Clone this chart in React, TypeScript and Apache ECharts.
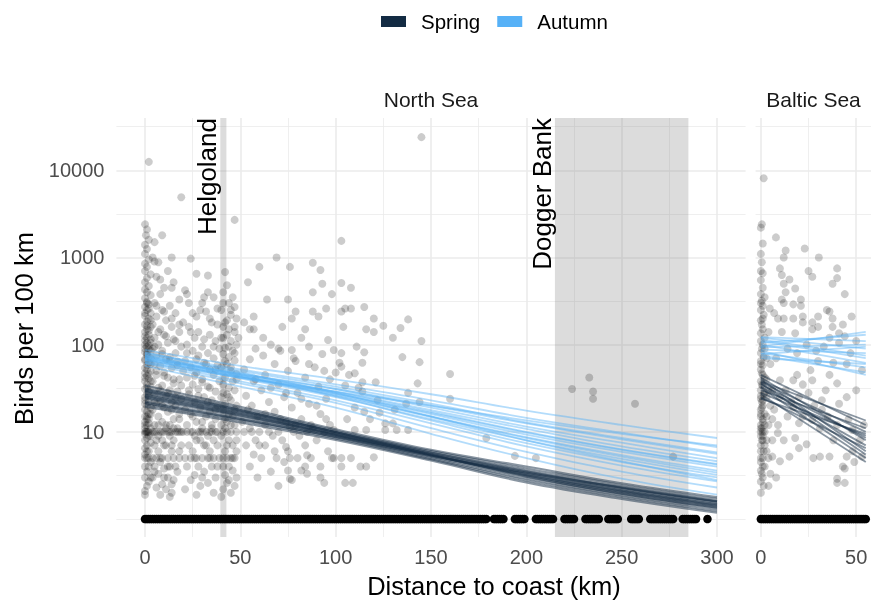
import React, { useEffect, useRef } from "react";
import * as echarts from "echarts";

const FONT = "Liberation Sans, Arial, Helvetica, sans-serif";
const SPRING = "#132B43";
const AUTUMN = "#56B1F7";

const seasons = ["Spring", "Autumn"];
const facets = ["North Sea", "Baltic Sea"];

// Observed birds per 100 km (non-zero), North Sea: [distance km, birds]
const northPoints: number[][] = [
  [2,12500],[19,4900],[47,2700],
  [0,2400],[1,2100],[0.5,1800],[2,1600],[0,1400],[1,1250],[0,1100],[2,950],[0,850],[1,780],[0,700],[3,640],[1,580],[0,520],[2,470],[0,430],[1,400],[3,370],[0,340],[1,310],[2,290],[0,270],[1,250],[3,230],[0,215],[2,200],[1,185],[0,170],[3,160],[1,150],[0,140],[2,130],[1,120],[0,112],[3,105],[0,100],[1,95],[2,88],[0,82],[1,76],[3,70],[0,66],[2,62],[1,58],[0,54],[3,50],[0,47],[1,44],[2,41],[0,38],[1,35],[3,33],[0,31],[2,29],[1,27],[0,25],[0,23],[2,22],[1,20],[3,19],[0,18],[1,17],[2,16],[0,15],[1,14],[0,13],[2,12.5],[1,12],[0,11],[3,11],[0,10],[1,10],[2,10],[0.5,10],[1.5,10],[0,9.5],[2,9],[1,8.5],[0,8],[3,7.5],[1,7],[0,6.5],[2,6],[0,5.5],[1,5],[0,5],[2,5],[3,4.5],[0,4],[1,3.5],[0,3],[2,2.7],[1,2.4],[0,2.1],[0,1.9],
  [1,300],[2,260],[0,230],[3,190],[1,165],[2,145],[0,125],[3,115],[1,105],[2,98],[0,90],[3,85],[1,80],[2,72],[0,68],[3,60],[1,52],[2,46],[0,42],[3,38],[1,32],[2,26],[0,21],[3,16],[1,15],[2,14],[0,12],[3,9],[1,6],[2,4],[3,3],
  [5,1500],[9,1800],[4,1000],[14,1000],[5,900],[7,880],[12,700],[6,600],[8,560],[15,520],[10,450],[14,450],[8,380],[18,330],[5,300],[13,280],[9,250],[16,230],[6,210],[11,190],[20,180],[4,170],[14,160],[8,150],[18,140],[10,130],[5,120],[15,115],[12,105],[7,100],[19,95],[4,90],[9,85],[16,80],[6,75],[13,72],[11,68],[17,64],[5,60],[8,57],[14,54],[20,50],[10,48],[6,45],[12,42],[18,40],[4,38],[15,36],[9,34],[7,32],[13,30],[17,29],[5,27],[11,26],[19,24],[8,23],[14,22],[6,21],[16,20],[10,19],[4,18],[12,17],[18,16],[7,15],[15,14],[9,13],[13,12],[5,12],[11,11],[17,11],[4,10],[6,10],[8,10],[10,10],[12,10],[14,10],[16,10],[18,10],[20,10],[7,9],[13,9],[9,8],[15,8],[5,7],[11,7],[19,7],[7,6],[14,6],[4,5],[6,5],[9,5],[12,5],[15,5],[18,5],[8,4.5],[13,4],[5,4],[10,3.8],[17,3.5],[7,3.3],[12,3],[4,3],[15,2.8],[9,2.5],[6,2.3],[11,2.2],[14,2],[8,1.9],[13,1.8],
  [6,280],[10,240],[14,200],[18,170],[7,140],[11,125],[16,110],[5,95],[9,78],[13,66],[17,58],[6,50],[10,44],[15,40],[19,34],[8,30],[12,28],[16,25],[5,22],[9,20],[14,18],[18,14],[7,12],[11,12],[15,11],[19,10],[5,10],[9,10],[13,10],[17,10],[6,8],[10,7],[14,7],[18,6],[8,5],[12,4],[16,4],[5,3.5],[10,3],[14,2.5],
  [24,970],[27,650],[33,620],[21,420],[22,380],[33,400],[31,350],[36,350],[25,230],[27,210],[32,240],[38,260],[30,300],[35,180],[23,160],[28,140],[34,130],[26,120],[37,110],[22,100],[30,95],[39,90],[25,85],[33,80],[28,75],[36,70],[21,65],[31,62],[38,58],[24,55],[34,52],[27,48],[36,45],[22,42],[30,40],[39,38],[25,35],[33,33],[28,31],[37,29],[23,27],[31,25],[35,23],[26,22],[38,20],[29,19],[21,18],[34,17],[24,16],[32,15],[37,14],[27,13],[22,12],[35,12],[30,11],[25,10],[28,10],[30,10],[32,10],[35,10],[38,10],[22,10],[26,9],[33,9],[29,8],[36,8],[23,7],[31,7],[38,7],[25,6],[34,6],[21,5],[24,5],[27,5],[30,5],[33,5],[36,5],[39,5],[28,4],[35,4],[22,4],[31,3.5],[26,3.2],[37,3],[24,2.8],[33,2.6],[29,2.4],[21,2.2],[36,2],[27,1.9],
  [23,300],[29,250],[34,200],[38,170],[24,140],[31,115],[36,95],[22,80],[27,68],[32,60],[37,52],[26,44],[30,37],[34,32],[23,30],[28,26],[33,22],[37,18],[25,15],[30,13],[35,11],[24,10],[29,10],[34,10],[37,10],[27,8],[32,7],[26,5],[34,5],[38,4],[30,3],
  [42,680],[43,480],[41,400],[46,350],[44,300],[47,270],[40,250],[45,220],[48,200],[42,180],[41,160],[44,150],[47,140],[43,130],[40,120],[45,110],[48,100],[42,92],[46,85],[41,78],[44,72],[47,66],[43,60],[40,55],[45,50],[48,46],[42,42],[46,38],[41,35],[44,32],[47,30],[43,27],[40,25],[45,23],[42,21],[48,20],[41,18],[44,16],[46,15],[43,13],[40,12],[47,12],[42,11],[45,10],[41,10],[43,10],[48,10],[40,9],[44,8],[46,7],[42,6],[48,6],[41,5],[43,5],[45,5],[47,5],[44,4],[46,3.6],[42,3.2],[48,3],[43,2.6],[41,2.2],[45,2],[40,1.8],[47,2.4],
  [41,300],[45,250],[43,190],[47,160],[41,120],[44,95],[47,80],[42,65],[45,55],[48,40],[41,28],[44,25],[47,18],[42,14],[45,12],[48,8],[43,7],[46,5],[41,4],[44,2.8],
  [54,520],[60,780],[69,1000],[76,780],[88,870],[92,720],[93,500],[88,400],[98,380],[64,330],[75,330],[79,240],[88,240],[57,210],[52,180],[77,200],[72,160],[57,150],[84,150],[82,120],[49,120],[91,210],[95,260],[96,113],[66,100],[58,90],[86,95],[71,85],[62,75],[93,78],[55,68],[79,65],[68,60],[89,55],[52,52],[75,50],[63,45],[84,42],[97,40],[57,38],[70,35],[91,33],[61,30],[80,28],[53,26],[73,25],[95,24],[65,22],[86,21],[56,20],[77,19],[68,17],[92,16],[59,15],[82,14],[51,13],[74,13],[97,12],[63,12],[55,11],[88,11],[52,10],[56,10],[60,10],[65,10],[70,10],[78,10],[85,10],[94,10],[67,9],[81,9],[58,8],[72,8],[90,8],[53,7],[63,7],[84,7],[96,6],[75,6],[57,5.5],[61,5],[69,5],[80,5],[87,5],[99,5],[73,4.5],[55,4],[92,4],[66,3.5],[85,3.3],[59,3],[77,2.8],[94,2.6],[70,2.4],[74,6.7],[76,11.4],[85,5.4],[75,3.6],[82,3.6],[76,2.9],
  [55,150],[62,120],[70,90],[78,70],[86,60],[94,50],[58,40],[66,32],[74,28],[82,24],[90,20],[54,18],[63,16],[71,14],[79,12],[87,12],[95,14],[60,7],[68,6],[76,5],[84,4],[92,3],
  [103,1550],[103,510],[108,450],[103,240],[105,260],[108,260],[115,270],[120,200],[125,165],[134,155],[138,195],[116,150],[120,140],[104,160],[130,120],[145,110],[111,95],[99,87],[103,80],[77,87],[115,82],[135,72],[144,63],[102,62],[103,56],[114,62],[107,45],[110,47],[121,37],[114,37],[143,36],[100,48],[105,34],[112,32],[114,29],[122,23],[131,18],[110,19],[115,17],[118,14],[126,12.5],[130,12.5],[123,16.6],[137,21],[144,22],[138,28],[160,46],[160,24],[99,10.5],[106,14],[110,10.5],[116,10.5],[126,10.5],[132,10.5],[138,10.5],[98,5],[103,5],[108,5],[103,4],[113,4],[116,4],[105,2.6],[109,2.6],[120,5.1],[145,24000],
  [179,8.5],[194,5.3],[205,5],[224,31],[233,42],[235,29],[235,24],[257,21],[277,5.2]
];

// Distances of transects with zero birds, North Sea
const northZeroX: number[] = [
  0,1,2,3,4,5,6,7,8,9,10,11,12,13,14,15,16,17,18,19,20,21,22,23,24,25,26,27,28,29,30,31,32,33,34,35,36,37,38,39,40,41,42,43,44,45,46,47,48,49,
  50,51,52,53,54,55,56,57,58,59,60,61,62,63,64,65,66,67,68,69,70,71,72,73,74,75,76,77,78,79,80,81,82,83,84,85,86,87,88,89,90,91,92,93,94,95,96,97,98,99,
  100,101,102,103,104,105,106,107,108,109,110,111,112,113,114,115,116,117,118,119,120,121,122,123,124,125,126,127,128,129,130,131,132,133,134,135,136,137,138,139,
  140,141,142,143,144,145,146,147,148,149,150,151,152,153,154,155,156,157,158,159,160,161,162,163,164,165,166,167,168,169,170,171,172,173,174,175,176,177,178,179,
  183,184,185,186,187,188,194,195,196,197,198,199,205,206,207,208,209,210,211,212,213,214,220,221,222,223,224,225,231,232,233,234,235,236,237,238,243,244,245,246,247,248,
  255,256,257,258,259,265,266,267,268,269,270,271,272,273,274,275,276,277,282,283,284,285,286,287,288,289,295
];

// Observed birds per 100 km (non-zero), Baltic Sea
const balticPoints: number[][] = [
  [1.5,8100],[0.5,2400],[0,2200],[1,1450],[0,1100],[0.5,880],[1,660],[0,550],[1,450],[0,380],[0.5,320],[1,280],[0,250],[1.5,220],[0,190],[0.5,170],[1,150],[0,135],[2,120],[0,110],[1,100],[0.5,90],[0,80],[1.5,72],[0,65],[1,58],[0,52],[0.5,47],[2,42],[0,38],[1,34],[0,30],[1.5,27],[0,24],[0.5,22],[1,20],[0,18],[2,16],[0,15],[1,13],[0,12],[0.5,11],[0,10],[1,10],[2,10],[0,9],[1,8],[0,7],[1.5,6],[0,5],[1,5],[0,4.5],[2,4],[0,3.6],[1,3],[0,2.7],[1.5,2.4],[0,2],
  [0,60],[1,45],[0.5,35],[2,28],[0,26],[1,23],[0.5,19],[0,16],[1,14],[2,12],[0,11],[1,9],[0.5,8],[2,7],[0,6],[1,4],[0.5,3.3],[3,40],[3,15],[3,8],[4,30],[5,20],[2,90],[1,200],[0,300],[2,350],[0,700],[3,70],[4,5],
  [7.9,1700],[13,1200],[23,1270],[30.4,1000],[12,1000],[10,750],[11,630],[15,560],[25,700],[27,600],[40,750],[40,580],[37.6,500],[44,380],[12,500],[13,400],[18,440],[11,330],[12,300],[21,330],[21,280],[17,290],[4.7,260],[7,230],[9,200],[12,200],[17,200],[22,210],[22,180],[27,180],[30,210],[27,150],[30,160],[34.6,250],[36,240],[37.6,200],[37.6,160],[43,170],[47.6,210],[41,135],[44,125],[41,105],[36,120],[11,140],[18,135],[4,140],
  [8.9,9.7],[17,39],[27,39],[22,15],[32,18],[34,30],[40,36],[43,4],[44,2.6],[40,2.6],[40,2.9],[44,3.8],[36,5.2],[31,5.2],[27.5,5],[49,4.5],[45,5.2],[48,6],[53,5.2],[15,5.2],[20,6.5],[24,7.2],[6,5.2],[10,4.6],[18,8.5],[20,12.6],[27,13.7],[31,11],[38,8],[48,10.5],[52,8],[46,14],[32,23],[41,21],[20,25],[17,19],[26,51],[38,62],[47,80],[53,51],[6,14],[10,25],[13,30],[10,39],[5,60],[8,70],[14,90],[19,80],[24,100],[29,85],[33,95],[50,110],[45,60],[36,45],[3,25],[4,12],[6,8],[3,6],[5,3.3],[8,3],[4,2.4],
  [6,30],[7,18],[9,12],[12,8],[14,15],[16,22],[19,45],[22,35],[25,28],[28,20],[30,65],[35,15],[40,12],[45,25],[50,30],[54,12]
];

const balticZeroX: number[] = [0,1,2,3,4,5,6,7,8,9,10,11,12,13,14,15,16,17,18,19,20,21,22,23,24,25,26,27,28,29,30,31,32,33,34,35,36,37,38,39,40,41,42,43,44,45,46,47,48,49,50,51,52,53,54,55];

// Fitted posterior draws
const northFitX = [0, 50, 100, 150, 200, 250, 300];
const northSpringDraws: number[][] = [
  [34,19.4,10.7,6.2,4.0,2.57,1.78],[19.5,12.8,8.1,4.7,2.63,1.70,1.18],[25.7,15.8,9.3,5.4,3.24,2.09,1.45],[29.5,17.5,10,5.8,3.6,2.32,1.61],
  [22.4,14.2,8.7,5.0,2.92,1.88,1.31],[27.5,16.6,9.6,5.6,3.42,2.2,1.53],[24,15,9.0,5.2,3.07,1.98,1.38],[30.5,17.8,9.9,5.5,3.1,1.95,1.35],
  [21.5,14,8.8,5.3,3.4,2.3,1.6],[31.5,18.4,10.3,6.0,3.8,2.45,1.7],[20.7,13.5,8.4,4.85,2.77,1.79,1.24],[26.5,16.2,9.4,5.5,3.3,2.13,1.48],
  [25,15.4,9.2,5.35,3.18,2.05,1.42],[28.8,17.1,9.9,5.75,3.52,2.27,1.58]
];
const northAutumnDraws: number[][] = [
  [87,57,40,27,17.5,12,8.5],[57,33,19,9.5,5,2.9,1.9],[71,44,27.5,16,9.3,5.9,4],[78,50,33,21,12.8,8.5,5.8],
  [64,38,23,12.5,6.8,4.1,2.7],[75,47,31,19,11.5,7.5,5],[67,41,25,14,8,4.9,3.2],[62,42,29,20,13.5,9.5,7],
  [82,48,28,15,8,4.6,2.8],[72,45,28.5,17,10,6.3,4.3],[69,42.5,26.5,15,8.7,5.4,3.6],[80,52,35,23,14.5,9.8,6.7],
  [61,36,21.5,11,5.9,3.5,2.3],[76,46,29,17.8,10.8,6.8,4.6],[66,42,26,14.8,8.5,5.2,3.4],[70,46,31,20,12.5,8.2,5.6],
  [74,44,25.5,13.5,7.4,4.5,3],[68,43,27.5,16.5,9.8,6.2,4.2]
];
const balticFitX = [0, 55];
const balticSpringDraws: number[][] = [
  [42,8],[25,6.5],[37,10],[32,5],[28,9],[45,12],[33,7],[38,13.5],[27,4.5],[35,8.5],[30,11],[40,6],[24,9.5],[36,5.5]
];
const balticAutumnDraws: number[][] = [
  [110,70],[80,55],[120,90],[75,48],[95,140],[100,62],[88,80],[115,75],[70,60],[105,130],[85,45],[93,100],[78,95],[122,110]
];

// Axis breaks
const yMajor = [10, 100, 1000, 10000];
const yMinor = [1, 3.1623, 31.623, 316.23, 3162.3, 31623];
const northXMajor = [0, 50, 100, 150, 200, 250, 300];
const northXMinor = [25, 75, 125, 175, 225, 275];
const balticXMajor = [0, 50];
const balticXMinor = [25];

// Highlighted areas (km)
const areaNames = ["Helgoland", "Dogger Bank"];
const areaRanges = [[39.5, 42.7], [215, 285]];

const GRID_TOP = 118;
const GRID_H = 419;

function gridLines(idx: number, xMaj: number[], xMin: number[]) {
  const minor = { color: "#ebebeb", width: 0.8, type: "solid" };
  const major = { color: "#ebebeb", width: 1.6, type: "solid" };
  return {
    type: "scatter",
    xAxisIndex: idx,
    yAxisIndex: idx,
    data: [],
    z: 1,
    silent: true,
    markLine: {
      z: 1,
      silent: true,
      symbol: ["none", "none"],
      label: { show: false },
      emphasis: { disabled: true },
      data: [
        ...yMinor.map((v) => ({ yAxis: v, lineStyle: minor })),
        ...yMajor.map((v) => ({ yAxis: v, lineStyle: major })),
        ...xMin.map((v) => ({ xAxis: v, lineStyle: minor })),
        ...xMaj.map((v) => ({ xAxis: v, lineStyle: major })),
      ],
    },
  };
}

function drawSeries(name: string, color: string, idx: number, xs: number[], draws: number[][], width: number, opacity: number, smooth: number) {
  return draws.map((d) => ({
    type: "line",
    name,
    xAxisIndex: idx,
    yAxisIndex: idx,
    data: xs.map((x, i) => [x, d[i]]),
    showSymbol: false,
    symbol: "none",
    smooth,
    color,
    itemStyle: { color },
    lineStyle: { width, opacity, color },
    z: 5,
    silent: true,
  }));
}

export default function App() {
  const ref = useRef<HTMLDivElement>(null);
  useEffect(() => {
    if (!ref.current) return;
    const chart = echarts.init(ref.current, null, { renderer: "svg" });
    const yFmt = (v: number) => {
      const m = yMajor.find((t) => Math.abs(v / t - 1) < 1e-6);
      return m ? String(m) : "";
    };
    const yAxisBase = {
      type: "log",
      logBase: 10,
      min: 0.622,
      max: 39810,
      axisLine: { show: false },
      axisTick: { show: false },
      splitLine: { show: false },
      minorSplitLine: { show: false },
    };
    const pointStyle = { color: "#000", opacity: 0.2 };
    const zeroStyle = { color: "#000", opacity: 1 };
    const option: any = {
      animation: false,
      textStyle: { fontFamily: FONT },
      legend: {
        left: 381,
        top: 11,
        padding: 0,
        itemWidth: 25,
        itemHeight: 11,
        itemGap: 17,
        icon: "rect",
        selectedMode: false,
        textStyle: { fontSize: 20.5, color: "#000", fontFamily: FONT, padding: [0, 0, 0, 10] },
        data: [
          { name: seasons[0], icon: "rect", itemStyle: { color: SPRING, opacity: 1 } },
          { name: seasons[1], icon: "rect", itemStyle: { color: AUTUMN, opacity: 1 } },
        ],
      },
      grid: [
        { left: 116.4, top: GRID_TOP, width: 629.2, height: GRID_H, outerBoundsMode: "none", containLabel: false },
        { left: 755.6, top: GRID_TOP, width: 115.4, height: GRID_H, outerBoundsMode: "none", containLabel: false },
      ],
      xAxis: [
        {
          gridIndex: 0, type: "value", min: -15, max: 315,
          axisLine: { show: false }, axisTick: { show: false }, splitLine: { show: false },
          axisLabel: {
            color: "#4d4d4d", fontSize: 20, margin: 10, fontFamily: FONT,
            formatter: (v: number) => (northXMajor.includes(v) ? String(v) : ""),
          },
        },
        {
          gridIndex: 1, type: "value", min: -2.75, max: 57.75,
          axisLine: { show: false }, axisTick: { show: false }, splitLine: { show: false },
          axisLabel: {
            color: "#4d4d4d", fontSize: 20, margin: 10, fontFamily: FONT,
            formatter: (v: number) => (balticXMajor.includes(v) ? String(v) : ""),
          },
        },
      ],
      yAxis: [
        { ...yAxisBase, gridIndex: 0, axisLabel: { color: "#4d4d4d", fontSize: 20, margin: 12, fontFamily: FONT, formatter: yFmt } },
        { ...yAxisBase, gridIndex: 1, axisLabel: { show: false } },
      ],
      series: [
        gridLines(0, northXMajor, northXMinor),
        gridLines(1, balticXMajor, balticXMinor),
        {
          type: "scatter", xAxisIndex: 0, yAxisIndex: 0, data: [], z: 2, silent: true,
          markArea: {
            z: 2,
            silent: true,
            label: { show: false },
            itemStyle: { color: "rgba(127,127,127,0.27)" },
            emphasis: { disabled: true },
            data: areaRanges.map((r) => [{ xAxis: r[0] }, { xAxis: r[1] }]),
          },
        },
        { type: "scatter", name: "obs-north", xAxisIndex: 0, yAxisIndex: 0, data: northPoints, symbolSize: 8, itemStyle: pointStyle, z: 3, silent: true },
        // zero counts are drawn on the log axis floor value 1
        { type: "scatter", name: "zero-north", xAxisIndex: 0, yAxisIndex: 0, data: northZeroX.map((x) => [x, 1]), symbolSize: 8.5, itemStyle: zeroStyle, z: 3, silent: true },
        { type: "scatter", name: "obs-baltic", xAxisIndex: 1, yAxisIndex: 1, data: balticPoints, symbolSize: 8, itemStyle: pointStyle, z: 3, silent: true },
        { type: "scatter", name: "zero-baltic", xAxisIndex: 1, yAxisIndex: 1, data: balticZeroX.map((x) => [x, 1]), symbolSize: 8.5, itemStyle: zeroStyle, z: 3, silent: true },
        ...drawSeries(seasons[0], SPRING, 0, northFitX, northSpringDraws, 2.2, 0.5, 0.4),
        ...drawSeries(seasons[1], AUTUMN, 0, northFitX, northAutumnDraws, 1.8, 0.45, 0.4),
        ...drawSeries(seasons[0], SPRING, 1, balticFitX, balticSpringDraws, 1.8, 0.5, 0),
        ...drawSeries(seasons[1], AUTUMN, 1, balticFitX, balticAutumnDraws, 1.8, 0.45, 0),
      ],
    };
    chart.setOption(option);

    const annX = areaRanges.map((r) => chart.convertToPixel({ xAxisIndex: 0 }, r[0]) as number);
    chart.setOption({
      graphic: [
        {
          type: "text", x: 494, y: 586, silent: true,
          style: { text: "Distance to coast (km)", fontSize: 25.5, fontFamily: FONT, fill: "#000", align: "center", verticalAlign: "middle", textAlign: "center", textVerticalAlign: "middle" },
        },
        {
          type: "text", x: 23.5, y: 328.5, rotation: Math.PI / 2, silent: true,
          style: { text: "Birds per 100 km", fontSize: 25.5, fontFamily: FONT, fill: "#000", align: "center", verticalAlign: "middle", textAlign: "center", textVerticalAlign: "middle" },
        },
        {
          type: "text", x: 431, y: 99, silent: true,
          style: { text: facets[0], fontSize: 21, fontFamily: FONT, fill: "#1a1a1a", align: "center", verticalAlign: "middle", textAlign: "center", textVerticalAlign: "middle" },
        },
        {
          type: "text", x: 813.5, y: 99, silent: true,
          style: { text: facets[1], fontSize: 21, fontFamily: FONT, fill: "#1a1a1a", align: "center", verticalAlign: "middle", textAlign: "center", textVerticalAlign: "middle" },
        },
        ...areaNames.map((n, i) => ({
          type: "text", x: annX[i], y: GRID_TOP, rotation: Math.PI / 2, silent: true, z: 10,
          style: { text: n, fontSize: 26, fontFamily: FONT, fill: "#000", align: "right", verticalAlign: "bottom", textAlign: "right", textVerticalAlign: "bottom" },
        })),
      ],
    });
    return () => chart.dispose();
  }, []);
  return <div ref={ref} style={{ position: "fixed", left: 0, top: 0, width: 872, height: 605 }} />;
}
